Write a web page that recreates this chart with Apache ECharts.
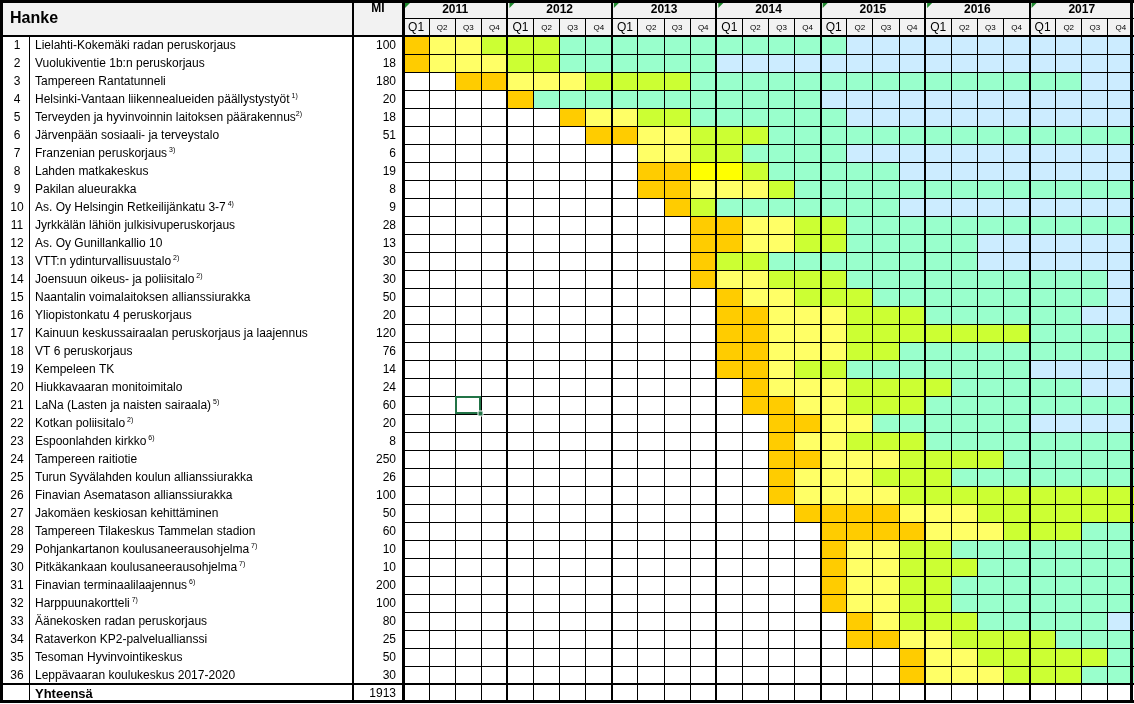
<!DOCTYPE html>
<html><head><meta charset="utf-8">
<script src="https://cdn.jsdelivr.net/npm/echarts@6/dist/echarts.min.js"></script>
<style>html,body{margin:0;padding:0;background:#fff}#c{width:1134px;height:704px}</style>
</head><body><div id="c"></div><script>
// ---------- data ----------
const years = ['2011','2012','2013','2014','2015','2016','2017'];
const quarters = ['Q1','Q2','Q3','Q4'];
const headerLabels = ['Hanke', 'MI'];
const projects = [
 'Lielahti-Kokemäki radan peruskorjaus','Vuolukiventie 1b:n peruskorjaus','Tampereen Rantatunneli',
 'Helsinki-Vantaan liikennealueiden päällystystyöt','Terveyden ja hyvinvoinnin laitoksen päärakennus',
 'Järvenpään sosiaali- ja terveystalo','Franzenian peruskorjaus','Lahden matkakeskus','Pakilan alueurakka',
 'As. Oy Helsingin Retkeilijänkatu 3-7','Jyrkkälän lähiön julkisivuperuskorjaus','As. Oy Gunillankallio 10',
 'VTT:n ydinturvallisuustalo','Joensuun oikeus- ja poliisitalo','Naantalin voimalaitoksen allianssiurakka',
 'Yliopistonkatu 4 peruskorjaus','Kainuun keskussairaalan peruskorjaus ja laajennus','VT 6 peruskorjaus',
 'Kempeleen TK','Hiukkavaaran monitoimitalo','LaNa (Lasten ja naisten sairaala)','Kotkan poliisitalo',
 'Espoonlahden kirkko','Tampereen raitiotie','Turun Syvälahden koulun allianssiurakka',
 'Finavian Asematason allianssiurakka','Jakomäen keskiosan kehittäminen','Tampereen Tilakeskus Tammelan stadion',
 'Pohjankartanon koulusaneerausohjelma','Pitkäkankaan koulusaneerausohjelma','Finavian terminaalilaajennus',
 'Harppuunakortteli','Äänekosken radan peruskorjaus','Rataverkon KP2-palveluallianssi',
 'Tesoman Hyvinvointikeskus','Leppävaaran koulukeskus 2017-2020'
];
const notes = ['','','','1)','2)','','3)','','','4)','','','2)','2)','','','','','','','5)','2)','6)','','','','','','7)','7)','6)','7)','','','',''];
const mi = [100,18,180,20,18,51,6,19,8,9,28,13,30,30,50,20,120,76,14,24,60,20,8,250,26,100,50,60,10,10,200,100,80,25,50,30];
const totalLabel = 'Yhteensä';
const totalMi = 1913;
// one character per quarter 2011Q1..2017Q4: O start, L, Y, G, M, B phases, '.' empty
const schedule = [
 'OLLGGGMMMMMMMMMMMBBBBBBBBBBB',
 'OLLLGGMMMMMMBBBBBBBBBBBBBBBB',
 '..OOLLLGGGGMMMMMMMMMMMMMMMBB',
 '....OMMMMMMMMMMMBBBBBBBBBBBB',
 '......OLLGGMMMMMMBBBBBBBBBBB',
 '.......OOLLGGGMMMMMMMMMMMMMM',
 '.........LLGGMMMMBBBBBBBBBBB',
 '.........OOYYGMMMMMBBBBBBBBB',
 '.........OOLLLGMMMMMMMMMMMMM',
 '..........OGMMMMMMMBBBBBBBBB',
 '...........OOLLGGMMMMMMMMMMM',
 '...........OOLLGGMMMMMBBBBBB',
 '...........OGGMMMMMMMMBBBBBB',
 '...........OLLGGGMMMMMMMMMMB',
 '............OLLGGGMMMMMMMMMB',
 '............OOLLLGGGMMMMMMBB',
 '............OOLLLGGGGGGGMMMM',
 '............OOLLLGGMMMMMMMMM',
 '............OOLGGMMMMMMMBBBB',
 '.............OLLLGGGGMMMMMBB',
 '.............OOLLGGGMMMMMMMM',
 '..............OOLLMMMMMMBBBB',
 '..............OLLGGGMMMMMMMM',
 '..............OOLLLGGGGMMMMM',
 '..............OLLLGGGMMMMMMM',
 '..............OLLLLGGGGGGGGG',
 '...............OOOOLLLGGGGGG',
 '................OOOOLLLGGGMM',
 '................OLLGGMMMMMMM',
 '................OLLGGGMMMMMM',
 '................OLLGGMMMMMMM',
 '................OLLGGMMMMMMM',
 '.................OLGGGMMMMMB',
 '.................OOLLGGGGMMM',
 '...................OLLGGGGGM',
 '...................OLLLGGGMM'
];
const phaseColors = {O:'#FFCC00', L:'#FFFF66', Y:'#FFFF00', G:'#CCFF33', M:'#99FFCC', B:'#CCECFF', '.':'#FFFFFF'};
const selectedCell = [[2, 20]]; // [quarter index, project index]

// ---------- derived ----------
const FONT = '"Liberation Sans", Arial, sans-serif';
const HDR = '#F2F2F2';
const quarterCats = years.flatMap(y => quarters.map(q => y + ' ' + q));
const rowKeys = ['hdrYear','hdrQuarter'].concat(projects.map((p,i)=>'r'+(i+1)), ['total']);
const NQ = quarterCats.length, NR = rowKeys.length;

const cellData = [], cellColors = [];
schedule.forEach((s, r) => { for (let c = 0; c < s.length; c++) { cellData.push([c, r + 2]); cellColors.push(phaseColors[s[c]]); } });

function band(api, c, r) {
  const p = api.coord([c, r]); const s = api.size([1, 1]);
  return { x0: p[0] - s[0] / 2, y0: p[1] - s[1] / 2, w: s[0], h: s[1], cx: p[0], cy: p[1] };
}
function crisp(v, w) { return (w % 2) ? Math.floor(v) + 0.5 : Math.round(v); }
function line(x1, y1, x2, y2, w) {
  if (x1 === x2) { x1 = x2 = crisp(x1, w); } else { y1 = y2 = crisp(y1, w); }
  return { type: 'line', shape: { x1, y1, x2, y2 }, style: { stroke: '#000', lineWidth: w } };
}
function txt(text, x, y, opt) {
  return { type: 'text', style: Object.assign({ text, x, y, fill: '#000', fontFamily: FONT, fontSize: 12, align: 'left', verticalAlign: 'middle' }, opt || {}) };
}

const chart = echarts.init(document.getElementById('c'), null, { renderer: 'canvas' });
const option = {
  animation: false,
  backgroundColor: '#fff',
  textStyle: { fontFamily: FONT },
  grid: [
    { left: 0, top: 0, width: 403, height: 702 },
    { left: 403, top: 0, width: 731, height: 702 }
  ],
  xAxis: [
    { type: 'value', gridIndex: 0, min: 0, max: 403, show: false },
    { type: 'category', gridIndex: 1, data: quarterCats, show: false }
  ],
  yAxis: [
    { type: 'category', gridIndex: 0, data: rowKeys, inverse: true, show: false },
    { type: 'category', gridIndex: 1, data: rowKeys, inverse: true, show: false }
  ],
  series: [
    // quarter cells
    { type: 'custom', xAxisIndex: 1, yAxisIndex: 1, z: 1, data: cellData,
      renderItem: (params, api) => {
        const b = band(api, api.value(0), api.value(1));
        const x0 = Math.round(b.x0), x1 = Math.round(b.x0 + b.w), y0 = Math.round(b.y0), y1 = Math.round(b.y0 + b.h);
        return { type: 'rect', shape: { x: x0, y: y0, width: x1 - x0, height: y1 - y0 }, style: { fill: cellColors[params.dataIndex] } };
      } },
    // year header
    { type: 'custom', xAxisIndex: 1, yAxisIndex: 1, z: 2, data: years.map((y, i) => [i * 4, 0]),
      renderItem: (params, api) => {
        const b = band(api, api.value(0), 0);
        const x0 = b.x0, w = b.w * 4;
        return { type: 'group', children: [
          { type: 'rect', shape: { x: Math.round(x0), y: Math.round(b.y0), width: Math.round(w), height: Math.round(b.h) }, style: { fill: HDR } },
          txt(years[params.dataIndex], x0 + w / 2, b.cy + 1, { align: 'center', fontWeight: 'bold', fontSize: 12 }),
          { type: 'polygon', shape: { points: [[x0 + 2, b.y0 + 2], [x0 + 8, b.y0 + 2], [x0 + 2, b.y0 + 8]] }, style: { fill: '#1E8A2E' } }
        ] };
      } },
    // quarter header
    { type: 'custom', xAxisIndex: 1, yAxisIndex: 1, z: 2, data: quarterCats.map((q, i) => [i, 1]),
      renderItem: (params, api) => {
        const b = band(api, api.value(0), 1);
        const q = quarters[params.dataIndex % 4];
        return { type: 'group', children: [
          { type: 'rect', shape: { x: Math.round(b.x0), y: Math.round(b.y0), width: Math.round(b.w) + 1, height: Math.round(b.h) }, style: { fill: HDR } },
          txt(q, b.cx, b.cy + 1, { align: 'center', fontSize: q === 'Q1' ? 12 : 8 })
        ] };
      } },
    // grid lines (quarter area)
    { type: 'custom', xAxisIndex: 1, yAxisIndex: 1, z: 5, data: [[0, 0]],
      renderItem: (params, api) => {
        const cs = params.coordSys; const s = api.size([1, 1]);
        const ch = [];
        for (let i = 0; i <= NQ; i++) {
          const x = i < NQ ? api.coord([i, 0])[0] - s[0] / 2 : api.coord([NQ - 1, 0])[0] + s[0] / 2;
          const edge = (i === 0 || i === NQ);
          const w = edge ? 3 : (i % 4 === 0 ? 2 : 1);
          const yStart = (i % 4 === 0) ? cs.y : cs.y + s[1];
          ch.push(line(edge && i === NQ ? x - 2 : x, yStart, edge && i === NQ ? x - 2 : x, cs.y + cs.height, w));
        }
        for (let j = 0; j <= NR; j++) {
          const y = j < NR ? api.coord([0, j])[1] - s[1] / 2 : api.coord([0, NR - 1])[1] + s[1] / 2;
          const w = (j === 0 || j === NR) ? 3 : ((j === 2 || j === NR - 1) ? 2 : 1);
          ch.push(line(cs.x, j === 0 ? y + 1 : (j === NR ? y - 1 : y), cs.x + cs.width, j === 0 ? y + 1 : (j === NR ? y - 1 : y), w));
        }
        return { type: 'group', children: ch };
      } },
    // selected cell
    { type: 'custom', xAxisIndex: 1, yAxisIndex: 1, z: 6, data: selectedCell.map(d => [d[0], d[1] + 2]),
      renderItem: (params, api) => {
        const b = band(api, api.value(0), api.value(1));
        const x0 = Math.round(b.x0) + 1, y0 = Math.round(b.y0) + 1, x1 = Math.round(b.x0 + b.w), y1 = Math.round(b.y0 + b.h);
        return { type: 'group', children: [
          { type: 'rect', shape: { x: x0, y: y0, width: x1 - x0 - 1, height: y1 - y0 - 1 }, style: { fill: 'none', stroke: '#217346', lineWidth: 2 } },
          { type: 'rect', shape: { x: x1 - 3, y: y1 - 3, width: 5, height: 5 }, style: { fill: '#217346', stroke: '#fff', lineWidth: 1 } }
        ] };
      } },
    // left header
    { type: 'custom', xAxisIndex: 0, yAxisIndex: 0, z: 2, data: [[0, 0]],
      renderItem: (params, api) => {
        const a = band(api, 0, 0), b = band(api, 0, 1);
        const top = a.y0, h = (b.y0 + b.h) - a.y0;
        const xMI = api.coord([378, 0])[0];
        return { type: 'group', children: [
          { type: 'rect', shape: { x: 0, y: top, width: api.coord([403, 0])[0], height: h }, style: { fill: HDR } },
          txt(headerLabels[0], api.coord([10, 0])[0], top + h / 2 + 1, { fontWeight: 'bold', fontSize: 16 }),
          txt(headerLabels[1], xMI, a.cy, { align: 'center', fontWeight: 'bold', fontSize: 12 })
        ] };
      } },
    // project rows
    { type: 'custom', xAxisIndex: 0, yAxisIndex: 0, z: 3, data: projects.map((p, i) => [0, i + 2]),
      renderItem: (params, api) => {
        const i = params.dataIndex;
        const b = band(api, 0, api.value(1));
        const y = b.cy + 1;
        const note = notes[i];
        const rich = note ? `{n|${projects[i]}}{s|${i === 4 ? '' : ' '}${note}}` : `{n|${projects[i]}}`;
        return { type: 'group', children: [
          txt(String(i + 1), api.coord([17, 0])[0], y, { align: 'center' }),
          { type: 'text', style: { text: rich, x: api.coord([35, 0])[0], y: y, align: 'left', verticalAlign: 'middle',
              rich: { n: { fontFamily: FONT, fontSize: 12, fill: '#000', lineHeight: 14 },
                      s: { fontFamily: FONT, fontSize: 7, fill: '#000', lineHeight: 14, verticalAlign: 'top', padding: [0, 0, 6, 0] } } } },
          txt(String(mi[i]), api.coord([396, 0])[0], y, { align: 'right' })
        ] };
      } },
    // total row
    { type: 'custom', xAxisIndex: 0, yAxisIndex: 0, z: 3, data: [[0, NR - 1]],
      renderItem: (params, api) => {
        const b = band(api, 0, api.value(1));
        return { type: 'group', children: [
          txt(totalLabel, api.coord([35, 0])[0], b.cy + 1, { fontWeight: 'bold', fontSize: 13 }),
          txt(String(totalMi), api.coord([396, 0])[0], b.cy + 1, { align: 'right' })
        ] };
      } },
    // left lines
    { type: 'custom', xAxisIndex: 0, yAxisIndex: 0, z: 5, data: [[0, 0]],
      renderItem: (params, api) => {
        const cs = params.coordSys; const s = api.size([1, 1]);
        const yAt = j => j < NR ? api.coord([0, j])[1] - s[1] / 2 : api.coord([0, NR - 1])[1] + s[1] / 2;
        const top = yAt(0), hb = yAt(2), tot = yAt(NR - 1), bot = yAt(NR);
        const X = v => api.coord([v, 0])[0];
        return { type: 'group', children: [
          line(X(0) + 1, top, X(0) + 1, bot, 3),
          line(X(30), hb, X(30), bot, 1),
          line(X(353), top, X(353), bot, 2),
          line(cs.x, top + 1, cs.x + cs.width, top + 1, 3),
          line(cs.x, hb, cs.x + cs.width, hb, 2),
          line(cs.x, tot, cs.x + cs.width, tot, 2),
          line(cs.x, bot - 1, cs.x + cs.width, bot - 1, 3)
        ] };
      } }
  ]
};
chart.setOption(option);
</script></body></html>
